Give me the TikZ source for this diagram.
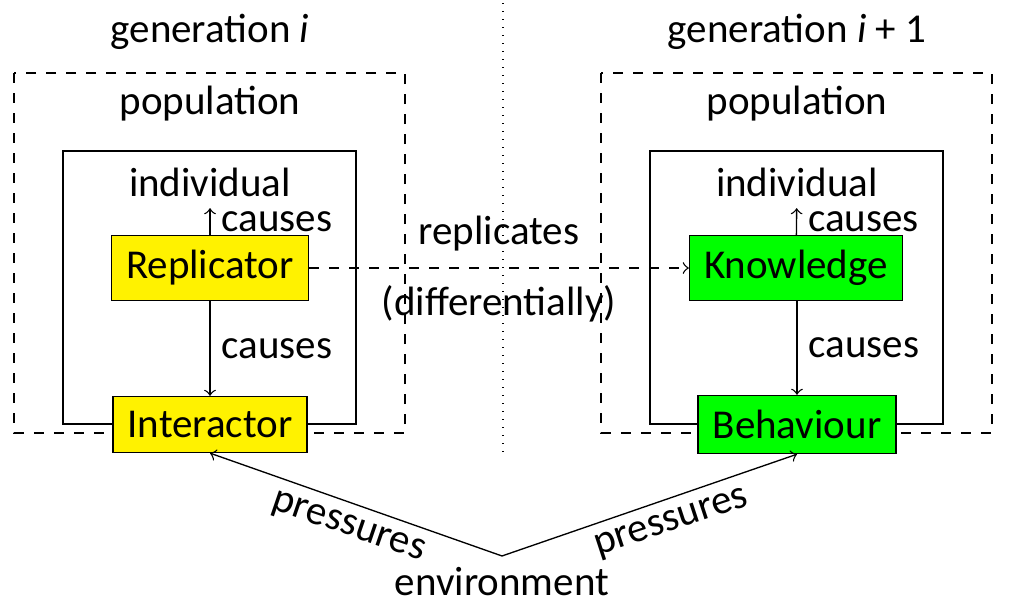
\documentclass[tikz,border=0pt]{standalone}
\usepackage{fontspec}
\setmainfont{Carlito}
\definecolor{repyellow}{RGB}{255,242,0}
\definecolor{knowgreen}{RGB}{0,255,0}

\begin{document}
\begin{tikzpicture}[x=0.3pt,y=0.3pt,yscale=-1,xscale=1,
  font=\fontsize{12.3}{14}\selectfont,
  unit/.style={draw, inner sep=4.4pt}]
\useasboundingbox (0,0) rectangle (1010,609);

%Shape: Dotted Line [generation border]
\draw [dotted] (503,3) -- (503,455) ;
%Shape: Rectangle [population i]
\draw [dashed] (14,73) rectangle (405,433) ;
%Shape: Rectangle [individual i]
\draw (63,151) rectangle (356,424) ;
%Shape: Rectangle [population i+1]
\draw [dashed] (601,73) rectangle (992,433) ;
%Shape: Rectangle [individual i+1]
\draw (650,151) rectangle (943,424) ;

% Text Node
\node (geni) at (210,32) {generation \textit{i}} ;
% Text Node
\node (genj) at (797,32) {generation \textit{i} + 1} ;
% Text Node
\node (popi) at (210,104) {population} ;
% Text Node
\node (popj) at (797,104) {population} ;
% Text Node
\node (indi) at (210,182) {individual} ;
% Text Node
\node (indj) at (797,182) {individual} ;
% Text Node
\node (environment) at (502,582) {environment} ;

% Box Node
\node [unit, fill=repyellow] (replicator) at (210,268) {Replicator} ;
% Box Node
\node [unit, fill=repyellow] (interactor) at (210,424.5) {Interactor} ;
% Box Node
\node [unit, fill=knowgreen] (knowledge) at (796,268) {Knowledge} ;
% Box Node
\node [unit, fill=knowgreen] (behaviour) at (797,424.5) {Behaviour} ;

% Connection
\draw [->] (replicator) -- (indi) node [midway, right] {causes} ;
% Connection
\draw [->] (replicator) -- (interactor) node [midway, right] {causes} ;
% Connection
\draw [->] (knowledge) -- (indj) node [midway, right] {causes} ;
% Connection
\draw [->] (knowledge.south -| behaviour) -- (behaviour) node [midway, right] {causes} ;
% Connection
\draw [dashed, ->] (replicator) -- (knowledge)
  node [midway, above, inner sep=5pt] {replicates}
  node [midway, below, inner sep=5pt] {(differentially)} ;
% Connection
\draw [->] (environment.north) -- (interactor.south) node [midway, rotate=-18.9, below] {pressures} ;
% Connection
\draw [->] (environment.north) -- (behaviour.south) node [pos=0.55, rotate=18.2, below] {pressures} ;

\end{tikzpicture}
\end{document}
